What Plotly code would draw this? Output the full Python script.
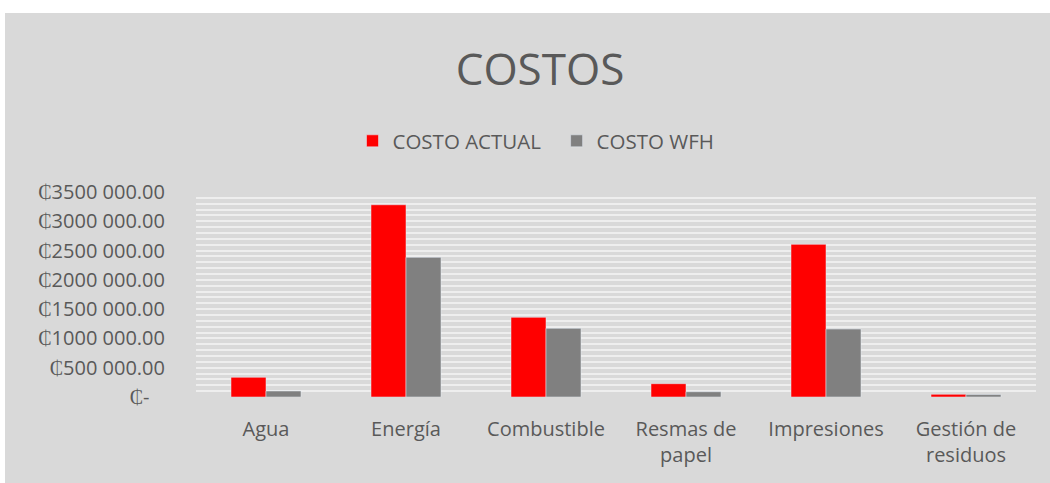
import plotly.graph_objects as go

categories = ["Agua", "Energía", "Combustible", "Resmas de<br>papel", "Impresiones", "Gestión de<br>residuos"]
costo_actual = [336000, 3282000, 1360000, 227000, 2606000, 46000]
costo_wfh = [102000, 2384000, 1172000, 90000, 1160000, 42000]
tick_vals = [0, 500000, 1000000, 1500000, 2000000, 2500000, 3000000, 3500000]
tick_text = ["₵-\u00a0\u00a0\u00a0", "₵500 000.00", "₵1000 000.00", "₵1500 000.00",
             "₵2000 000.00", "₵2500 000.00", "₵3000 000.00", "₵3500 000.00"]

FONT = "Open Sans"
TXT = "#595959"

fig = go.Figure()
fig.add_trace(go.Bar(x=categories, y=costo_actual, name="COSTO ACTUAL\u00a0\u00a0", marker_color="#ff0000"))
fig.add_trace(go.Bar(x=categories, y=costo_wfh, name="COSTO WFH", marker_color="#808080"))

L, R, T, B = 196, 14, 192, 86
W, H = 1050, 483
pw, ph = W - L - R, H - T - B

def px_x(p):
    return (p - L) / pw

def px_y(p):
    return (H - B - p) / ph

fig.add_shape(type="rect", xref="paper", yref="paper", layer="below",
              x0=px_x(5), x1=px_x(1052), y0=px_y(490), y1=px_y(13),
              fillcolor="#d9d9d9", line_width=0)

fig.update_layout(
    width=W, height=H,
    margin=dict(l=L, r=R, t=T, b=B),
    paper_bgcolor="white", plot_bgcolor="rgba(0,0,0,0)",
    barmode="group", bargap=0.5, bargroupgap=0,
    font=dict(family=FONT, color=TXT, size=20),
    title=dict(text="COSTOS", x=540 / W, xanchor="center", y=1 - 70 / H, yanchor="middle",
               xref="container", yref="container", font=dict(size=44, color=TXT, family=FONT)),
    legend=dict(orientation="h", x=px_x(536), xanchor="center", y=px_y(141), yanchor="middle",
                font=dict(size=20.5, color=TXT), bgcolor="rgba(0,0,0,0)", itemwidth=30),
    xaxis=dict(showgrid=False, showline=False, ticks="outside", ticklen=14,
               tickcolor="rgba(0,0,0,0)", tickfont=dict(size=20, color=TXT)),
    yaxis=dict(range=[0, 3500000], showgrid=False, zeroline=False, showline=False,
               tickvals=tick_vals, ticktext=tick_text, ticks="outside", ticklen=26,
               tickcolor="rgba(0,0,0,0)", tickfont=dict(size=20, color=TXT),
               minor=dict(dtick=100000, showgrid=True, gridcolor="#eeeeee", gridwidth=2)),
)

fig.write_html("out.html", config={"displayModeBar": False},
               post_script="document.body.style.margin='0';")
